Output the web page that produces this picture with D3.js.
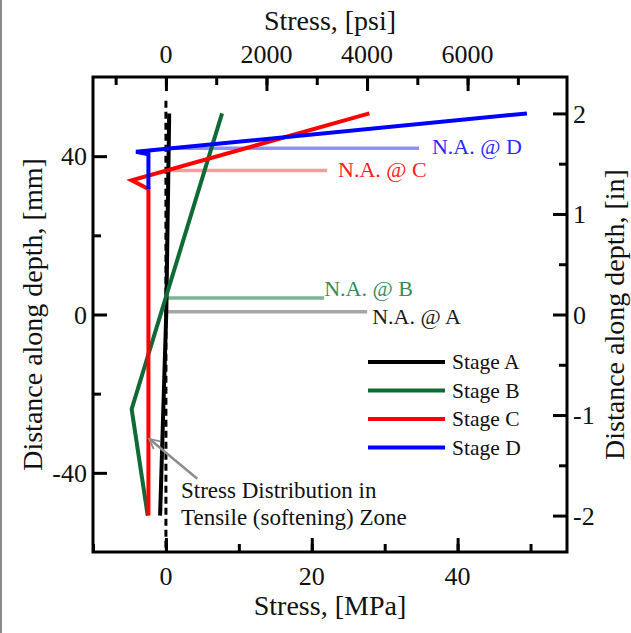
<!DOCTYPE html>
<html><head><meta charset="utf-8">
<script src="https://cdn.jsdelivr.net/npm/d3@7/dist/d3.min.js"></script>
<style>
html,body{margin:0;padding:0;background:#fff;}
svg{display:block;font-family:"Liberation Serif","Times New Roman",serif;}
</style></head>
<body>
<svg id="chart" width="631" height="633"></svg>
<script>
// ---- data (stress in MPa, depth in mm) ----
const stageNames = ["Stage A", "Stage B", "Stage C", "Stage D"];
const stageColors = ["#000000", "#0f6b35", "#ff0000", "#0000ff"];
const stageA = [[0.45, 50.8], [0.05, 0.7], [-0.8, -50.8]];
const stageB = [[7.7, 50.8], [-4.7, -23.9], [-2.5, -50.8]];
const stageC = [[27.9, 50.8], [-4.7, 33.9], [-2.4, 31.7], [-2.4, -50.8]];
const stageD = [[49.5, 50.8], [-4.1, 41.1], [-2.4, 40.5], [-2.4, 31.7]];
const naLabels = ["N.A. @ A", "N.A. @ B", "N.A. @ C", "N.A. @ D"];
const naDepth = [0.7, 4.2, 36.4, 42.0];
const naEnd = [27.6, 21.7, 22.1, 34.7];
const naLineColors = ["#a6a6a6", "#7fb396", "#ff9a9a", "#8f8fff"];
const naTextColors = ["#1a1a1a", "#3a8a5e", "#ff2020", "#2a2aff"];
const mpaTicks = [0, 20, 40];
const psiTicks = [0, 2000, 4000, 6000];
const mmTicks = [-40, 0, 40];
const inTicks = [-2, -1, 0, 1, 2];
const annotation = ["Stress Distribution in", "Tensile (softening) Zone"];
const arrowFrom = [4.3, -41.5];
const arrowTo = [-2.3, -31.4];

const svg = d3.select("#chart");
const L = 93, R = 567, T = 77, B = 552;
const x = d3.scaleLinear().domain([-10, 55]).range([L, R]);
const xPsi = d3.scaleLinear().domain([-10 * 145.038, 55 * 145.038]).range([L, R]);
const y = d3.scaleLinear().domain([-60, 60]).range([B, T]);
const yIn = d3.scaleLinear().domain([-60 / 25.4, 60 / 25.4]).range([B, T]);

// left border line of image
svg.append("line").attr("x1", 1).attr("x2", 1).attr("y1", 0).attr("y2", 633)
  .attr("stroke", "#8a8a8a").attr("stroke-width", 2);

const MAJ = 14, MIN = 8;
function styleAxis(g) {
  g.select(".domain").remove();
  g.selectAll(".tick line").attr("stroke", "#000").attr("stroke-width", 3);
  g.selectAll(".tick text").attr("fill", "#111").attr("font-size", 26)
    .attr("font-family", "Liberation Serif, Times New Roman, serif");
}
// bottom MPa axis (ticks inward)
const gB = svg.append("g").attr("transform", `translate(0,${B})`);
gB.call(d3.axisTop(x).tickValues(d3.range(-10, 56, 10)).tickSize(MIN).tickFormat(""));
styleAxis(gB);
const gB2 = svg.append("g").attr("transform", `translate(0,${B})`);
gB2.call(d3.axisTop(x).tickValues(mpaTicks).tickSize(MAJ).tickFormat(""));
styleAxis(gB2);
mpaTicks.forEach(v => svg.append("text").attr("x", x(v)).attr("y", 585)
  .attr("text-anchor", "middle").attr("font-size", 26).attr("fill", "#111").text(v));

// top psi axis
const gT = svg.append("g").attr("transform", `translate(0,${T})`);
gT.call(d3.axisBottom(xPsi).tickValues(d3.range(-1000, 8000, 1000)).tickSize(MIN).tickFormat(""));
styleAxis(gT);
const gT2 = svg.append("g").attr("transform", `translate(0,${T})`);
gT2.call(d3.axisBottom(xPsi).tickValues(psiTicks).tickSize(MAJ).tickFormat(""));
styleAxis(gT2);
psiTicks.forEach(v => svg.append("text").attr("x", xPsi(v)).attr("y", 63)
  .attr("text-anchor", "middle").attr("font-size", 26).attr("fill", "#111").text(v));

// left mm axis
const gL = svg.append("g").attr("transform", `translate(${L},0)`);
gL.call(d3.axisRight(y).tickValues([-20, 20]).tickSize(MIN).tickFormat(""));
styleAxis(gL);
const gL2 = svg.append("g").attr("transform", `translate(${L},0)`);
gL2.call(d3.axisRight(y).tickValues(mmTicks).tickSize(MAJ).tickFormat(""));
styleAxis(gL2);
mmTicks.forEach(v => svg.append("text").attr("x", 87).attr("y", y(v))
  .attr("dy", "0.35em").attr("text-anchor", "end").attr("font-size", 26).attr("fill", "#111").text(v));

// right inch axis
const gR = svg.append("g").attr("transform", `translate(${R},0)`);
gR.call(d3.axisLeft(yIn).tickValues([-1.5, -0.5, 0.5, 1.5]).tickSize(MIN).tickFormat(""));
styleAxis(gR);
const gR2 = svg.append("g").attr("transform", `translate(${R},0)`);
gR2.call(d3.axisLeft(yIn).tickValues(inTicks).tickSize(MAJ).tickFormat(""));
styleAxis(gR2);
inTicks.forEach(v => svg.append("text").attr("x", 573).attr("y", yIn(v))
  .attr("dy", "0.35em").attr("text-anchor", "start").attr("font-size", 26).attr("fill", "#111").text(v));

// frame
svg.append("rect").attr("x", L).attr("y", T).attr("width", R - L).attr("height", B - T)
  .attr("fill", "none").attr("stroke", "#000").attr("stroke-width", 3);

// axis titles
svg.append("text").attr("x", (L + R) / 2).attr("y", 30).attr("text-anchor", "middle")
  .attr("font-size", 28).attr("fill", "#111").text("Stress, [psi]");
svg.append("text").attr("x", (L + R) / 2).attr("y", 615).attr("text-anchor", "middle")
  .attr("font-size", 28).attr("fill", "#111").text("Stress, [MPa]");
svg.append("text").attr("transform", `translate(42,${(T + B) / 2}) rotate(-90)`)
  .attr("text-anchor", "middle").attr("font-size", 28).attr("fill", "#111")
  .text("Distance along depth, [mm]");
svg.append("text").attr("transform", `translate(624,${(T + B) / 2}) rotate(-90)`)
  .attr("text-anchor", "middle").attr("font-size", 28).attr("fill", "#111")
  .text("Distance along depth, [in]");

// zero dashed line
svg.append("line").attr("x1", x(0)).attr("x2", x(0)).attr("y1", y(54)).attr("y2", y(-60))
  .attr("stroke", "#000").attr("stroke-width", 3).attr("stroke-dasharray", "7,4");

// neutral axis lines
naDepth.forEach((d, i) => {
  svg.append("line").attr("x1", x(0)).attr("x2", x(naEnd[i])).attr("y1", y(d)).attr("y2", y(d))
    .attr("stroke", naLineColors[i]).attr("stroke-width", 3.5);
});
const naLabelOff = [[5, 12], [0, -2], [11, 7], [13, 6]];
naDepth.forEach((d, i) => {
  svg.append("text").attr("x", x(naEnd[i]) + naLabelOff[i][0]).attr("y", y(d) + naLabelOff[i][1])
    .attr("font-size", 22).attr("fill", naTextColors[i]).text(naLabels[i]);
});

// stage lines
const line = d3.line().x(d => x(d[0])).y(d => y(d[1]));
[stageA, stageB, stageC, stageD].forEach((s, i) => {
  svg.append("path").attr("d", line(s)).attr("fill", "none")
    .attr("stroke", stageColors[i]).attr("stroke-width", 4).attr("stroke-linejoin", "miter");
});

// legend
const legX = 368, legY = 362, legDy = 28.5;
stageNames.forEach((n, i) => {
  svg.append("line").attr("x1", legX).attr("x2", legX + 77).attr("y1", legY + i * legDy).attr("y2", legY + i * legDy)
    .attr("stroke", stageColors[i]).attr("stroke-width", 4);
  svg.append("text").attr("x", legX + 84).attr("y", legY + i * legDy).attr("dy", "0.33em")
    .attr("font-size", 21.5).attr("fill", "#111").text(n);
});

// annotation arrow
svg.append("defs").append("marker").attr("id", "ah").attr("viewBox", "0 0 10 10")
  .attr("refX", 9).attr("refY", 5).attr("markerWidth", 5).attr("markerHeight", 5)
  .attr("orient", "auto").attr("markerUnits", "strokeWidth")
  .append("path").attr("d", "M1,1 L9,5 L1,9").attr("fill", "none").attr("stroke", "#8c8c8c").attr("stroke-width", 1.5);
svg.append("line").attr("x1", x(arrowFrom[0])).attr("y1", y(arrowFrom[1]))
  .attr("x2", x(arrowTo[0])).attr("y2", y(arrowTo[1]))
  .attr("stroke", "#8c8c8c").attr("stroke-width", 2.5).attr("marker-end", "url(#ah)");
annotation.forEach((t, i) => {
  svg.append("text").attr("x", 181).attr("y", 498 + i * 27).attr("font-size", 23)
    .attr("fill", "#111").text(t);
});
</script>
</body></html>
